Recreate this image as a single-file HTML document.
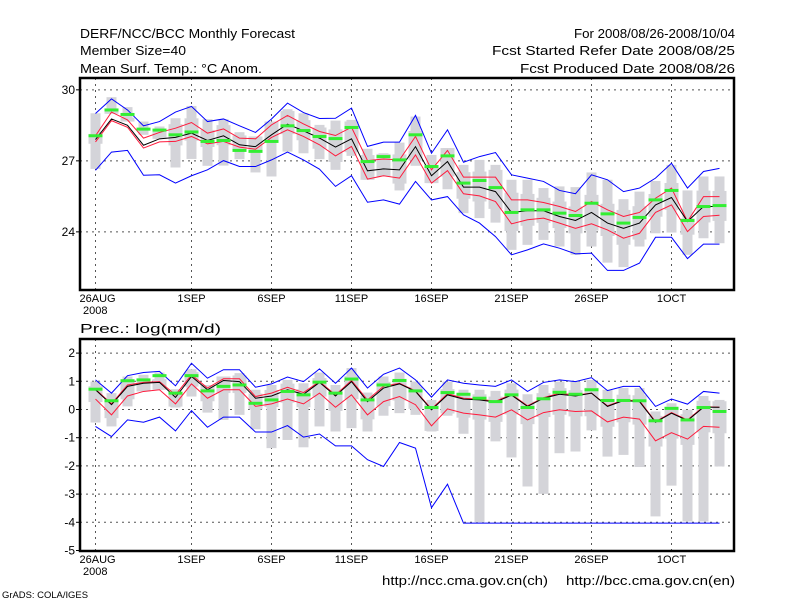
<!DOCTYPE html>
<html><head><meta charset="utf-8"><style>
html,body{margin:0;padding:0;background:#fff;}
svg{display:block;font-family:"Liberation Sans",sans-serif;}
</style></head><body>
<svg id="chart" width="800" height="600" viewBox="0 0 800 600">
<rect width="800" height="600" fill="#fff"/>
<g font-size="12.5" fill="#000">
<text x="80" y="38" textLength="215" lengthAdjust="spacingAndGlyphs">DERF/NCC/BCC Monthly Forecast</text>
<text x="80" y="55" textLength="106" lengthAdjust="spacingAndGlyphs">Member Size=40</text>
<text x="80" y="73" textLength="182" lengthAdjust="spacingAndGlyphs">Mean Surf. Temp.: °C Anom.</text>
</g>
<g font-size="12.5" fill="#000">
<text x="574" y="38" textLength="161" lengthAdjust="spacingAndGlyphs">For 2008/08/26-2008/10/04</text>
<text x="492" y="55" textLength="243" lengthAdjust="spacingAndGlyphs">Fcst Started Refer Date 2008/08/25</text>
<text x="520" y="73" textLength="215" lengthAdjust="spacingAndGlyphs">Fcst Produced Date 2008/08/26</text>
</g>
<text x="80" y="333" font-size="12.5" textLength="141" lengthAdjust="spacingAndGlyphs">Prec.: log(mm/d)</text>
<text x="382" y="585" font-size="12.5" textLength="166" lengthAdjust="spacingAndGlyphs">http://ncc.cma.gov.cn(ch)</text>
<text x="566" y="585" font-size="12.5" textLength="169" lengthAdjust="spacingAndGlyphs">http://bcc.cma.gov.cn(en)</text>
<text x="2" y="598" font-size="9" textLength="86" lengthAdjust="spacingAndGlyphs">GrADS: COLA/IGES</text>
<g id="top"></g>
<g id="bot"></g>
</svg>
<script>
const xTickDays=[0,6,11,16,21,26,31,36];
const xTickLabels=["26AUG","1SEP","6SEP","11SEP","16SEP","21SEP","26SEP","1OCT"];

const tBlueHi=[29.0,29.62,29.15,28.48,28.66,29.06,29.3,28.66,28.77,28.48,28.2,28.77,29.44,29.04,28.79,28.8,29.23,27.61,27.79,27.79,28.92,27.32,28.31,26.94,27.18,27.35,26.41,26.27,26.13,25.75,25.61,26.41,26.2,25.7,25.85,26.27,26.9,25.85,26.55,26.68];
const tBlueLo=[26.6,27.37,27.44,26.39,26.41,26.06,26.37,26.62,27.01,26.76,26.76,27.04,27.37,27.04,26.65,25.92,26.37,25.25,25.35,25.17,26.13,25.35,25.49,24.72,24.37,23.8,23.03,23.24,23.49,23.31,23.07,23.1,22.37,22.37,22.68,23.77,23.77,22.87,23.48,23.48];
const tRedHi=[28.06,29.06,28.73,27.96,28.2,28.38,28.62,28.17,28.35,27.96,27.93,28.52,28.92,28.56,28.24,28.07,28.42,27.01,27.08,27.04,28.03,26.62,27.44,26.31,26.31,26.31,25.35,25.35,25.24,25.07,24.86,25.28,24.93,24.65,24.82,25.42,25.85,24.44,25.49,25.49];
const tRedLo=[27.8,28.7,28.42,27.54,27.8,27.82,28.03,27.72,27.82,27.58,27.49,27.99,28.31,28.03,27.68,27.21,27.61,26.23,26.37,26.27,27.25,26.06,26.59,25.61,25.52,25.28,24.34,24.51,24.58,24.37,24.15,24.34,24.08,23.73,23.94,24.82,25.14,24.01,24.65,24.7];
const tMean=[27.9,28.77,28.5,27.66,27.93,27.99,28.17,27.86,28.06,27.68,27.6,28.1,28.55,28.27,27.96,27.58,27.93,26.58,26.66,26.62,27.6,26.37,26.97,25.89,25.89,25.7,24.82,24.89,24.89,24.65,24.48,24.82,24.37,24.15,24.37,25.14,25.45,24.44,25.07,25.07];
const tGreen=[28.06,29.15,28.96,28.34,28.3,28.1,28.22,27.82,27.86,27.44,27.4,27.82,28.48,28.28,28.03,27.94,28.41,26.97,27.18,27.04,28.1,26.76,27.21,26.06,26.17,25.87,24.82,24.93,24.93,24.79,24.69,25.21,24.76,24.37,24.61,25.35,25.75,24.48,25.07,25.11];
const tGrayHi=[29.01,29.69,29.27,28.66,28.45,28.8,29.32,28.76,28.76,28.21,28.03,28.66,29.18,29.01,28.52,28.7,28.73,27.51,27.32,27.77,28.87,27.25,27.54,26.83,27.04,26.83,26.2,26.2,25.85,25.92,25.89,26.51,26.2,25.38,25.7,26.15,26.83,25.75,26.34,26.34];
const tGrayLo=[26.66,28.99,28.66,28.1,27.93,26.72,27.08,26.79,26.8,27.07,26.51,26.34,27.39,27.32,27.07,26.62,27.21,26.2,26.34,25.75,26.79,26.06,25.8,24.79,24.58,24.39,23.24,23.45,23.66,23.38,23.03,23.38,22.7,22.51,23.38,23.94,23.97,23.03,23.73,23.52];
const tYTicks=[30,27,24];

const pBlueHi=[1.05,0.58,1.2,1.31,1.35,0.84,1.64,1.11,1.41,1.41,0.79,0.91,1.15,0.99,1.44,0.93,1.47,0.76,1.25,1.47,1.05,0.44,1.05,0.93,0.87,0.82,1.05,0.64,0.96,1.05,0.99,1.13,0.67,0.82,0.82,0.11,0.37,0.19,0.64,0.58];
const pBlueLo=[-0.6,-0.96,-0.37,-0.45,-0.27,-0.76,-0.04,-0.63,-0.27,-0.27,-0.8,-0.8,-0.57,-0.98,-0.87,-1.29,-1.29,-1.78,-2.02,-1.17,-1.37,-3.48,-2.65,-4.03,-4.03,-4.03,-4.03,-4.03,-4.03,-4.03,-4.03,-4.03,-4.03,-4.03,-4.03,-4.03,-4.03,-4.03,-4.03,-4.03];
const pRedHi=[0.72,0.2,0.87,0.96,0.99,0.52,1.23,0.76,1.09,1.09,0.46,0.58,0.79,0.6,0.99,0.52,1.03,0.34,0.82,0.93,0.66,0.02,0.56,0.4,0.37,0.29,0.54,0.13,0.42,0.58,0.51,0.58,0.13,0.34,0.31,-0.43,-0.11,-0.37,0.1,0.08];
const pRedLo=[0.37,-0.19,0.48,0.64,0.7,0.2,0.91,0.4,0.7,0.7,0.11,0.2,0.37,0.2,0.58,0.08,0.52,-0.19,0.28,0.46,0.17,-0.58,0.02,-0.13,-0.19,-0.27,-0.01,-0.37,-0.11,-0.01,-0.07,-0.05,-0.44,-0.27,-0.34,-1.11,-0.82,-1.05,-0.6,-0.63];
const pMean=[0.7,0.17,0.82,0.93,0.96,0.43,1.17,0.7,1.03,0.99,0.4,0.48,0.7,0.54,0.96,0.48,0.99,0.28,0.76,0.91,0.64,-0.01,0.52,0.37,0.34,0.26,0.51,0.11,0.4,0.54,0.48,0.58,0.11,0.32,0.28,-0.45,-0.13,-0.39,0.08,0.08];
const pGreen=[0.72,0.31,1.02,1.05,1.2,0.58,1.2,0.66,0.82,0.87,0.22,0.34,0.64,0.52,0.97,0.58,1.08,0.34,0.87,1.03,0.66,0.07,0.6,0.54,0.4,0.28,0.52,0.07,0.38,0.61,0.54,0.7,0.32,0.32,0.31,-0.4,0.04,-0.37,0.07,-0.07];
const pGrayHi=[0.99,0.58,1.17,1.23,1.31,0.72,1.43,0.87,1.17,1.29,0.7,0.87,1.05,0.93,1.31,0.87,1.47,0.6,1.17,1.31,0.99,0.34,0.99,0.7,0.7,0.66,0.93,0.54,0.87,0.99,0.99,1.05,0.7,0.76,0.76,-0.07,0.22,-0.01,0.48,0.34];
const pGrayLo=[-0.46,-0.6,0.11,0.64,0.7,0.07,0.46,-0.11,-0.37,-0.19,-0.7,-1.37,-1.08,-1.34,-0.6,-0.78,-0.66,-0.78,-0.22,-0.13,-0.19,-0.78,-0.22,-0.86,-4.0,-1.13,-1.7,-2.73,-2.99,-1.55,-1.49,-0.74,-1.67,-1.61,-2.04,-3.79,-2.7,-3.97,-3.97,-2.02];
const pYTicks=[2,1,0,-1,-2,-3,-4,-5];

const NS="http://www.w3.org/2000/svg";
function mk(tag,attrs,parent){const e=document.createElementNS(NS,tag);for(const k in attrs)e.setAttribute(k,attrs[k]);parent.appendChild(e);return e;}
const X0=80,X1=734;
function xScale(d){return 95.5+16*d;}

function drawPanel(g,o){
  const y=v=>o.yTop+(o.vTop-v)*o.k;
  o.yTicks.forEach(v=>{
    if(v>o.vTop||v<o.vBot)return;
    const l=mk('line',{x1:X0,x2:X1,y1:y(v),y2:y(v),stroke:'#555','stroke-width':1,'stroke-dasharray':'2,4'},g);
    
    
    const t=mk('text',{x:75,y:y(v)+4,'font-size':12,'text-anchor':'end'},g);
    t.textContent=v;
    
    
    const tk=mk('line',{x1:76,x2:X0,y1:y(v),y2:y(v),stroke:'#000'},g);
    
    
  });
  xTickDays.forEach((d,i)=>{
    const x=xScale(d);
    const l=mk('line',{x1:x,x2:x,y1:o.yTop,y2:o.yBot,stroke:'#555','stroke-width':1,'stroke-dasharray':'2,4'},g);
    
    
    const t=mk('text',{x:x,y:o.yBot+12,'font-size':11,'text-anchor':i==0?'start':'middle'},g);
    if(i==0)t.setAttribute('x',x-16);
    t.textContent=xTickLabels[i];
    
    
  });
  const t2=mk('text',{x:83,y:o.yBot+24,'font-size':11},g);
  t2.textContent='2008';
  
  
  o.gHi.forEach((h,d)=>{
    const r=mk('rect',{x:xScale(d)-5,y:y(h),width:10,height:Math.max(1,y(o.gLo[d])-y(h)),fill:'#d4d4d9'},g);
    
    
    const lo=Math.max(o.gLo[d],o.rLo[d]-(o.rHi[d]-o.rLo[d])*0.3), hi=Math.min(h,o.rHi[d]+(o.rHi[d]-o.rLo[d])*0.3);
    if(hi>lo){
      const b=mk('rect',{x:xScale(d)-7,y:y(hi),width:14,height:y(lo)-y(hi),fill:'#d4d4d9'},g);
      
      
    }
  });
  const line=(arr,col,name)=>{
    const p=mk('polyline',{points:arr.map((v,d)=>xScale(d)+','+y(v)).join(' '),fill:'none',stroke:col,'stroke-width':1},g);
    
    
  };
  line(o.bHi,'#0000ff','max-line');
  line(o.bLo,'#0000ff','min-line');
  line(o.rHi,'#ff1a3c','upper-spread-line');
  line(o.rLo,'#ff1a3c','lower-spread-line');
  line(o.mean,'#000','ensemble-mean-line');
  o.green.forEach((v,d)=>{
    const r=mk('rect',{x:xScale(d)-7,y:y(v)-1.5,width:14,height:3,fill:'#33ee33'},g);
    
    
  });
  const f=mk('rect',{x:X0,y:o.yTop,width:X1-X0,height:o.yBot-o.yTop,fill:'none',stroke:'#000','stroke-width':2.5},g);
  
  
}
drawPanel(document.getElementById('top'),{yTop:78,yBot:290,vTop:30.5,vBot:21.5,k:23.67,yTicks:tYTicks,gHi:tGrayHi,gLo:tGrayLo,bHi:tBlueHi,bLo:tBlueLo,rHi:tRedHi,rLo:tRedLo,mean:tMean,green:tGreen});
drawPanel(document.getElementById('bot'),{yTop:339,yBot:551,vTop:2.5,vBot:-5,k:28.2,yTicks:pYTicks,gHi:pGrayHi,gLo:pGrayLo,bHi:pBlueHi,bLo:pBlueLo,rHi:pRedHi,rLo:pRedLo,mean:pMean,green:pGreen});
</script>
</body></html>
